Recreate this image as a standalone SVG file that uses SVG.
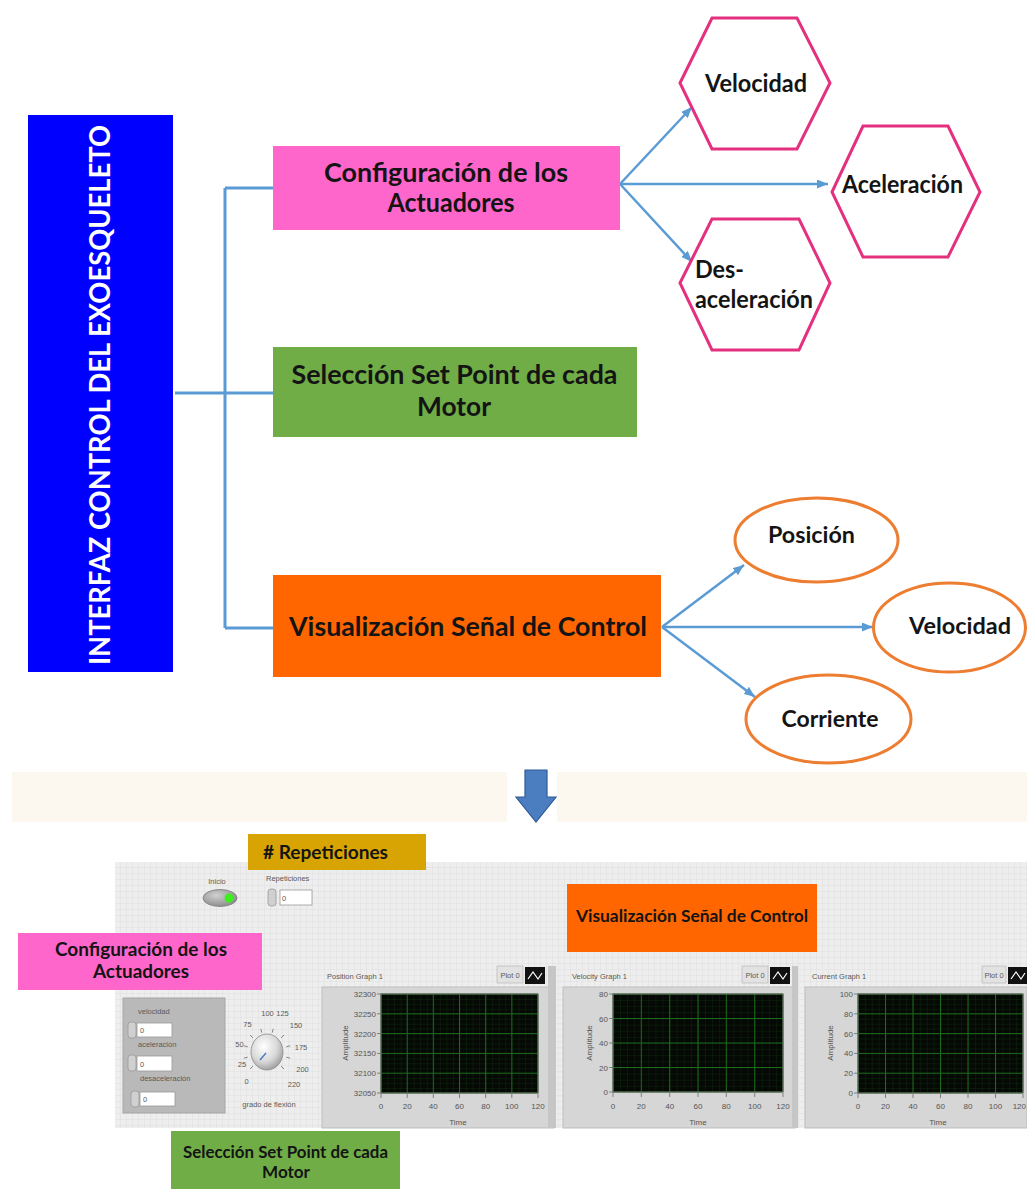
<svg xmlns="http://www.w3.org/2000/svg" width="1027" height="1189" viewBox="0 0 1027 1189">
<defs>
<style>
.t{font-family:Lato,"Open Sans","Liberation Sans",sans-serif;font-weight:700;fill:#141414}
.wt{font-family:Lato,"Open Sans","Liberation Sans",sans-serif;font-weight:700;fill:#ffffff}
.s{font-family:"Liberation Sans",Arial,sans-serif;font-size:7.5px;fill:#5a5a5a}
.ax{font-family:"Liberation Sans",Arial,sans-serif;font-size:8px;fill:#555}
.conn{fill:none;stroke:#5B9BD5;stroke-width:3}
.arr{fill:none;stroke:#5B9BD5;stroke-width:2.5;marker-end:url(#ah)}
.hex{fill:#fff;stroke:#E4317F;stroke-width:3}
.ell{fill:#fff;stroke:#ED7D31;stroke-width:3}
.maj{stroke:#1C6A1C;stroke-width:1;fill:none}
.tick{stroke:#6a6a6a;stroke-width:0.8;fill:none}
.cont{fill:#D6D6D6;stroke:#BDBDBD;stroke-width:1}
.num{fill:#fff;stroke:#9a9a9a;stroke-width:0.8}
.spin{fill:#d0d0d0;stroke:#999;stroke-width:0.8}
</style>
<marker id="ah" markerWidth="11" markerHeight="9" refX="11" refY="4.5" orient="auto" markerUnits="userSpaceOnUse"><path d="M0,0 L11,4.5 L0,9 z" fill="#5B9BD5"/></marker>
<pattern id="grid" x="115" y="862" width="6" height="6" patternUnits="userSpaceOnUse"><rect width="6" height="6" fill="#EEEEEE"/><path d="M6 0V6H0" fill="none" stroke="#DEDEDE" stroke-width="1"/></pattern>
<pattern id="m1" x="381" y="994" width="6.542" height="4.95" patternUnits="userSpaceOnUse"><rect width="6.542" height="4.95" fill="#050805"/><path d="M0 0V4.95M0 0H6.542" stroke="#0D300D" stroke-width="0.8"/></pattern>
<pattern id="m2" x="613" y="994" width="7.083" height="6.125" patternUnits="userSpaceOnUse"><rect width="7.083" height="6.125" fill="#050805"/><path d="M0 0V6.125M0 0H7.083" stroke="#0D300D" stroke-width="0.8"/></pattern>
<pattern id="m3" x="858" y="994" width="6.875" height="4.95" patternUnits="userSpaceOnUse"><rect width="6.875" height="4.95" fill="#050805"/><path d="M0 0V4.95M0 0H6.875" stroke="#0D300D" stroke-width="0.8"/></pattern>
<radialGradient id="knob" cx="0.4" cy="0.35" r="0.7"><stop offset="0" stop-color="#ffffff"/><stop offset="0.6" stop-color="#d8d8d8"/><stop offset="1" stop-color="#9a9a9a"/></radialGradient>
<radialGradient id="tog" cx="0.4" cy="0.35" r="0.7"><stop offset="0" stop-color="#d0d0d0"/><stop offset="1" stop-color="#8a8a8a"/></radialGradient>
</defs>

<rect width="1027" height="1189" fill="#ffffff"/>

<!-- connectors -->
<g id="connectors">
<path class="conn" d="M175 393H225M225 188V628M225 188H273M225 393H273M225 628H273"/>
<path class="arr" d="M620 184L692 107"/>
<path class="arr" d="M620 184L828 184"/>
<path class="arr" d="M620 184L692 262"/>
<path class="arr" d="M662 627L744 565"/>
<path class="arr" d="M662 627L873 627"/>
<path class="arr" d="M662 627L755 697"/>
</g>

<g id="n-interfaz">
<rect x="28" y="115" width="145" height="557" fill="#0000FF"/>
<text class="wt" font-size="28" text-anchor="middle" textLength="540" lengthAdjust="spacingAndGlyphs" transform="translate(110,395) rotate(-90)">INTERFAZ CONTROL DEL EXOESQUELETO</text>
</g>

<g id="n-config">
<rect x="273" y="146" width="347" height="84" fill="#FF66CC"/>
<text class="t" font-size="27" text-anchor="middle" x="446" y="182" textLength="244" lengthAdjust="spacingAndGlyphs">Configuración de los</text>
<text class="t" font-size="27" text-anchor="middle" x="451" y="212" textLength="127" lengthAdjust="spacingAndGlyphs">Actuadores</text>
</g>

<g id="n-setpoint">
<rect x="273" y="347" width="364" height="90" fill="#70AD47"/>
<text class="t" font-size="27" text-anchor="middle" x="454.5" y="384" textLength="326" lengthAdjust="spacingAndGlyphs">Selección Set Point de cada</text>
<text class="t" font-size="27" text-anchor="middle" x="454" y="416" textLength="74" lengthAdjust="spacingAndGlyphs">Motor</text>
</g>

<g id="n-visual">
<rect x="273" y="575" width="388" height="102" fill="#FF6600"/>
<text class="t" font-size="27" text-anchor="middle" x="468" y="636" textLength="358" lengthAdjust="spacingAndGlyphs">Visualización Señal de Control</text>
</g>

<g id="n-hex-velocidad">
<polygon class="hex" points="680,83 712,18 797,18 830,83 797,149 712,149"/>
<text class="t" font-size="24" text-anchor="middle" x="756" y="92" textLength="102" lengthAdjust="spacingAndGlyphs">Velocidad</text>
</g>

<g id="n-hex-aceleracion">
<polygon class="hex" points="832,192 863,126 948,126 980,192 948,257 863,257"/>
<text class="t" font-size="24" text-anchor="middle" x="902.5" y="193" textLength="121" lengthAdjust="spacingAndGlyphs">Aceleración</text>
</g>

<g id="n-hex-desaceleracion">
<polygon class="hex" points="680,283 712,219 799,219 830,283 799,350 712,350"/>
<text class="t" font-size="24" x="695" y="278" textLength="49" lengthAdjust="spacingAndGlyphs">Des-</text>
<text class="t" font-size="24" x="695" y="308" textLength="118" lengthAdjust="spacingAndGlyphs">aceleración</text>
</g>

<g id="n-ell-posicion">
<ellipse class="ell" cx="816.5" cy="540" rx="81.5" ry="42"/>
<text class="t" font-size="23" text-anchor="middle" x="811.5" y="543" textLength="87" lengthAdjust="spacingAndGlyphs">Posición</text>
</g>

<g id="n-ell-velocidad">
<ellipse class="ell" cx="949.5" cy="627.5" rx="76" ry="44.5"/>
<text class="t" font-size="23" text-anchor="middle" x="960" y="634" textLength="102" lengthAdjust="spacingAndGlyphs">Velocidad</text>
</g>

<g id="n-ell-corriente">
<ellipse class="ell" cx="828.5" cy="719" rx="82.5" ry="44"/>
<text class="t" font-size="23" text-anchor="middle" x="830" y="727" textLength="97" lengthAdjust="spacingAndGlyphs">Corriente</text>
</g>

<!-- transition band and arrow -->
<g id="band">
<rect x="12" y="772" width="495" height="50" fill="#FDF8EF"/>
<rect x="557" y="772" width="470" height="50" fill="#FDF8EF"/>
<polygon points="525,770 547,770 547,797 556,797 536,822 516,797 525,797" fill="#4A7EC0" stroke="#2F5A96" stroke-width="1.2"/>
</g>

<!-- LabVIEW front panel screenshot -->
<g id="panel">
<rect x="115" y="862" width="912" height="266" fill="url(#grid)"/>

<!-- Inicio toggle -->
<text class="s" x="217" y="884" text-anchor="middle" font-size="7">Inicio</text>
<ellipse cx="220" cy="898" rx="17" ry="8.5" fill="url(#tog)" stroke="#7a7a7a" stroke-width="0.8"/>
<circle cx="229" cy="898" r="4.5" fill="#3CF01E"/>

<!-- Repeticiones numeric -->
<text class="s" x="266" y="881" font-size="7">Repeticiones</text>
<rect class="spin" x="268" y="889" width="8" height="17" rx="3"/>
<rect class="num" x="280" y="890" width="32" height="15"/>
<text class="s" x="282" y="901" font-size="8">0</text>

<!-- control cluster -->
<rect x="123" y="998" width="102" height="115" fill="#B9B9B9" stroke="#A5A5A5" stroke-width="1"/>
<text class="s" x="138" y="1014" font-size="7">velocidad</text>
<rect class="spin" x="128" y="1022" width="8" height="16" rx="3"/>
<rect class="num" x="137" y="1023" width="35" height="14"/>
<text class="s" x="140" y="1033" font-size="8">0</text>
<text class="s" x="138" y="1047" font-size="7">aceleración</text>
<rect class="spin" x="128" y="1055" width="8" height="16" rx="3"/>
<rect class="num" x="137" y="1056" width="35" height="15"/>
<text class="s" x="140" y="1067" font-size="8">0</text>
<text class="s" x="140" y="1081" font-size="7">desaceleración</text>
<rect class="spin" x="131" y="1091" width="8" height="16" rx="3"/>
<rect class="num" x="140" y="1092" width="35" height="14"/>
<text class="s" x="143" y="1102" font-size="8">0</text>

<!-- dial -->
<path class="tick" d="M252.9 1066.1L250 1069M247.7 1057.2L243.8 1058.2M247.7 1046.8L243.8 1045.8M252.9 1037.9L250 1035M261.8 1032.7L260.8 1028.8M272.2 1032.7L273.2 1028.8M281.1 1037.9L284 1035M286.3 1046.8L290.2 1045.8M286.3 1057.2L290.2 1058.2M281.1 1066.1L284 1069"/>
<ellipse cx="267" cy="1052" rx="16" ry="18" fill="url(#knob)" stroke="#8c8c8c" stroke-width="0.8"/>
<line x1="266" y1="1053" x2="260" y2="1060" stroke="#4A7EC0" stroke-width="1.5"/>
<g class="s" font-size="7.5" text-anchor="middle">
<text x="246.5" y="1084">0</text>
<text x="242" y="1067">25</text>
<text x="239.5" y="1047">50</text>
<text x="247.5" y="1027">75</text>
<text x="267.5" y="1016">100</text>
<text x="282.5" y="1016">125</text>
<text x="296" y="1028">150</text>
<text x="301" y="1050">175</text>
<text x="302.5" y="1072">200</text>
<text x="294" y="1087">220</text>
<text x="269" y="1107">grado de flexión</text>
</g>

<!-- Position graph -->
<rect class="cont" x="322" y="987" width="232" height="141"/>
<rect x="548" y="966" width="8" height="162" fill="#C6C6C6"/>
<text class="s" x="327" y="979" font-size="7.5">Position Graph 1</text>
<rect x="497" y="966" width="26" height="17" fill="#E2E2E2" stroke="#BDBDBD" stroke-width="0.8"/>
<text class="s" x="510" y="978" text-anchor="middle" font-size="7">Plot 0</text>
<rect x="525" y="967" width="20" height="17" fill="#111"/>
<polyline points="528,979 533,972 538,979 542,973" fill="none" stroke="#fff" stroke-width="1.2"/>
<rect x="381" y="994" width="157" height="99" fill="url(#m1)"/>
<path class="maj" d="M381 994V1093M407.2 994V1093M433.3 994V1093M459.5 994V1093M485.7 994V1093M511.8 994V1093M538 994V1093M381 994H538M381 1013.8H538M381 1033.6H538M381 1053.4H538M381 1073.2H538M381 1093H538"/>
<rect x="381" y="994" width="157" height="99" fill="none" stroke="#6a6a6a" stroke-width="1"/>
<path class="tick" d="M377 994H381M377 1013.8H381M377 1033.6H381M377 1053.4H381M377 1073.2H381M377 1093H381M381 1094V1098M407.2 1094V1098M433.3 1094V1098M459.5 1094V1098M485.7 1094V1098M511.8 1094V1098M538 1094V1098"/>
<g class="ax" text-anchor="end" font-size="7">
<text x="376" y="997">32300</text><text x="376" y="1016.8">32250</text><text x="376" y="1036.6">32200</text><text x="376" y="1056.4">32150</text><text x="376" y="1076.2">32100</text><text x="376" y="1096">32050</text>
</g>
<g class="ax" text-anchor="middle">
<text x="381" y="1109">0</text><text x="407.2" y="1109">20</text><text x="433.3" y="1109">40</text><text x="459.5" y="1109">60</text><text x="485.7" y="1109">80</text><text x="511.8" y="1109">100</text><text x="538" y="1109">120</text>
<text x="458" y="1125">Time</text>
<text transform="translate(348,1043) rotate(-90)">Amplitude</text>
</g>

<!-- Velocity graph -->
<rect class="cont" x="563" y="987" width="232" height="141"/>
<rect x="792" y="966" width="6" height="162" fill="#C6C6C6"/>
<text class="s" x="572" y="979" font-size="7.5">Velocity Graph 1</text>
<rect x="742" y="966" width="26" height="17" fill="#E2E2E2" stroke="#BDBDBD" stroke-width="0.8"/>
<text class="s" x="755" y="978" text-anchor="middle" font-size="7">Plot 0</text>
<rect x="770" y="967" width="20" height="17" fill="#111"/>
<polyline points="773,979 778,972 783,979 787,973" fill="none" stroke="#fff" stroke-width="1.2"/>
<rect x="613" y="994" width="170" height="98" fill="url(#m2)"/>
<path class="maj" d="M613 994V1092M641.3 994V1092M669.7 994V1092M698 994V1092M726.3 994V1092M754.7 994V1092M783 994V1092M613 994H783M613 1018.5H783M613 1043H783M613 1067.5H783M613 1092H783"/>
<rect x="613" y="994" width="170" height="98" fill="none" stroke="#6a6a6a" stroke-width="1"/>
<path class="tick" d="M609 994H613M609 1018.5H613M609 1043H613M609 1067.5H613M609 1092H613M613 1093V1097M641.3 1093V1097M669.7 1093V1097M698 1093V1097M726.3 1093V1097M754.7 1093V1097M783 1093V1097"/>
<g class="ax" text-anchor="end">
<text x="608" y="997">80</text><text x="608" y="1021.5">60</text><text x="608" y="1046">40</text><text x="608" y="1070.5">20</text><text x="608" y="1095">0</text>
</g>
<g class="ax" text-anchor="middle">
<text x="613" y="1109">0</text><text x="641.3" y="1109">20</text><text x="669.7" y="1109">40</text><text x="698" y="1109">60</text><text x="726.3" y="1109">80</text><text x="754.7" y="1109">100</text><text x="783" y="1109">120</text>
<text x="698" y="1125">Time</text>
<text transform="translate(592,1043) rotate(-90)">Amplitude</text>
</g>

<!-- Current graph -->
<rect class="cont" x="805" y="987" width="222" height="141"/>
<text class="s" x="812" y="979" font-size="7.5">Current Graph 1</text>
<rect x="982" y="966" width="24" height="17" fill="#E2E2E2" stroke="#BDBDBD" stroke-width="0.8"/>
<text class="s" x="994" y="978" text-anchor="middle" font-size="7">Plot 0</text>
<rect x="1008" y="967" width="19" height="17" fill="#111"/>
<polyline points="1011,979 1016,972 1021,979 1025,973" fill="none" stroke="#fff" stroke-width="1.2"/>
<rect x="858" y="994" width="165" height="99" fill="url(#m3)"/>
<path class="maj" d="M858 994V1093M885.5 994V1093M913 994V1093M940.5 994V1093M968 994V1093M995.5 994V1093M1023 994V1093M858 994H1023M858 1013.8H1023M858 1033.6H1023M858 1053.4H1023M858 1073.2H1023M858 1093H1023"/>
<rect x="858" y="994" width="165" height="99" fill="none" stroke="#6a6a6a" stroke-width="1"/>
<path class="tick" d="M854 994H858M854 1013.8H858M854 1033.6H858M854 1053.4H858M854 1073.2H858M854 1093H858M858 1094V1098M885.5 1094V1098M913 1094V1098M940.5 1094V1098M968 1094V1098M995.5 1094V1098M1023 1094V1098"/>
<g class="ax" text-anchor="end">
<text x="853" y="997">100</text><text x="853" y="1016.8">80</text><text x="853" y="1036.6">60</text><text x="853" y="1056.4">40</text><text x="853" y="1076.2">20</text><text x="853" y="1096">0</text>
</g>
<g class="ax" text-anchor="middle">
<text x="858" y="1109">0</text><text x="885.5" y="1109">20</text><text x="913" y="1109">40</text><text x="940.5" y="1109">60</text><text x="968" y="1109">80</text><text x="995.5" y="1109">100</text>
<text x="938" y="1125">Time</text>
<text transform="translate(833,1043) rotate(-90)">Amplitude</text>
</g>
<text class="ax" x="1026" y="1109" text-anchor="end">120</text>
</g>

<!-- panel annotation labels -->
<g id="n-repeticiones">
<rect x="248" y="834" width="178" height="36" fill="#D8A404"/>
<text class="t" font-size="19" x="263" y="859" textLength="125" lengthAdjust="spacingAndGlyphs"># Repeticiones</text>
</g>

<g id="n-config-b">
<rect x="18" y="933" width="244" height="57" fill="#FF66CC"/>
<text class="t" font-size="18" text-anchor="middle" x="141" y="956" textLength="172" lengthAdjust="spacingAndGlyphs">Configuración de los</text>
<text class="t" font-size="18" text-anchor="middle" x="141" y="978" textLength="96" lengthAdjust="spacingAndGlyphs">Actuadores</text>
</g>

<g id="n-visual-b">
<rect x="567" y="884" width="250" height="68" fill="#FF6600"/>
<text class="t" font-size="17" text-anchor="middle" x="692" y="922" textLength="232" lengthAdjust="spacingAndGlyphs">Visualización Señal de Control</text>
</g>

<g id="n-setpoint-b">
<rect x="171" y="1131" width="229" height="58" fill="#70AD47"/>
<text class="t" font-size="17" text-anchor="middle" x="285.5" y="1158" textLength="205" lengthAdjust="spacingAndGlyphs">Selección Set Point de cada</text>
<text class="t" font-size="17" text-anchor="middle" x="286" y="1178" textLength="48" lengthAdjust="spacingAndGlyphs">Motor</text>
</g>
</svg>
